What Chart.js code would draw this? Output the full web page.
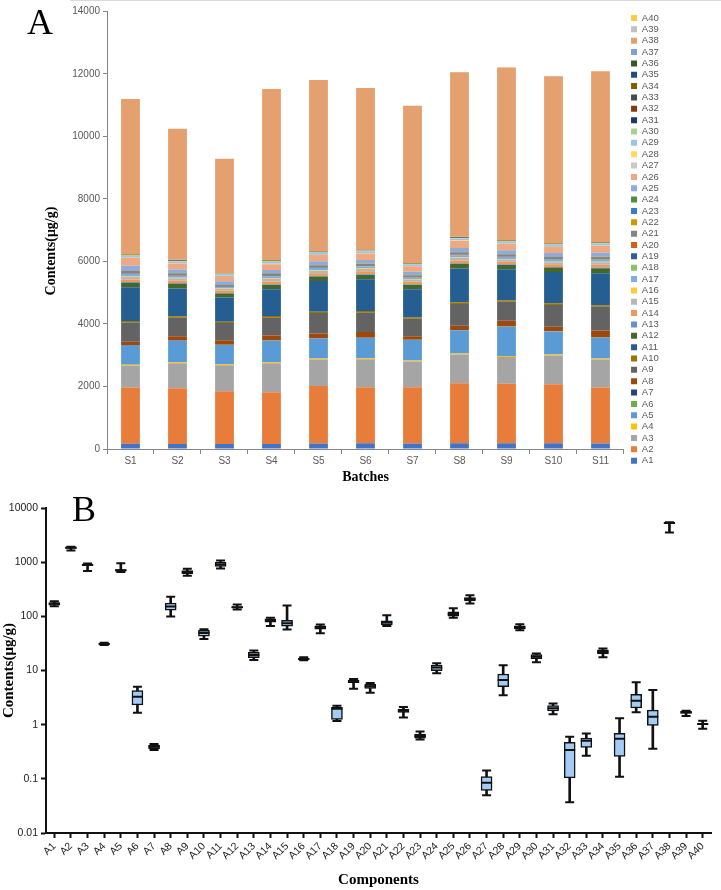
<!DOCTYPE html>
<html>
<head>
  <meta charset="utf-8">
  <title>Contents by batch and component</title>
  <script src="https://cdn.jsdelivr.net/npm/chart.js"></script>
  <style>
    body {
      margin: 0;
      width: 721px;
      height: 890px;
      position: relative;
      overflow: hidden;
      background: #fff;
      font-family: "Liberation Sans", Arial, sans-serif;
    }

    canvas {
      position: absolute;
      left: 0;
    }

    #chartA { top: 0; }
    #chartB { top: 492px; }

    .panel-letter {
      position: absolute;
      z-index: 2;
      font-family: "Liberation Serif", "Times New Roman", serif;
      font-size: 36px;
      line-height: 1;
      color: #000;
    }

    .y-title {
      position: absolute;
      z-index: 2;
      font-family: "Liberation Serif", "Times New Roman", serif;
      font-weight: bold;
      font-size: 14px;
      white-space: nowrap;
      transform: translate(-50%, -50%) rotate(-90deg);
    }

    .frame-top {
      position: absolute;
      left: 70px;
      top: 0;
      width: 651px;
      border-top: 1px solid #d9d9d9;
    }
  </style>
</head>
<body>
  <div class="frame-top"></div>
  <div class="panel-letter" style="left:27px; top:4px;">A</div>
  <div class="panel-letter" style="left:72px; top:491px;">B</div>
  <div class="y-title" style="left:51px; top:251px;">Contents(μg/g)</div>

  <canvas id="chartA" width="721" height="492"></canvas>
  <canvas id="chartB" width="721" height="398"></canvas>

  <script>
    // ---- panel A: stacked contents per batch ----
    const batches = ['S1', 'S2', 'S3', 'S4', 'S5', 'S6', 'S7', 'S8', 'S9', 'S10', 'S11'];
    const components = [];
    for (let i = 1; i <= 40; i++) components.push('A' + i);

    const a1  = [165, 162, 160, 158, 178, 180, 176, 182, 185, 180, 175];
    const a2  = [1800, 1780, 1690, 1655, 1840, 1795, 1800, 1925, 1900, 1890, 1790];
    const a3  = [700, 800, 830, 930, 845, 900, 825, 920, 860, 920, 900];
    const a4  = [30, 31, 30, 32, 31, 31, 30, 31, 30, 32, 31];
    const a5  = [630, 690, 620, 690, 640, 650, 660, 740, 940, 740, 665];
    const a6  = [3.3, 4.2, 2.3, 5.0, 3.0, 2.8, 1.7, 3.6, 4.1, 2.5, 3.3];
    const a7  = [0.39, 0.42, 0.36, 0.44, 0.40, 0.38, 0.34, 0.41, 0.43, 0.37, 0.39];
    const a8  = [106, 139, 149, 160, 160, 181, 118, 139, 182, 149, 229];
    const a9  = [610, 590, 550, 570, 650, 620, 560, 700, 610, 690, 755];
    const a10 = [48, 50, 39, 54, 45, 52, 43, 56, 49, 57, 47];
    const a11 = [1080, 890, 780, 860, 980, 1020, 900, 1077, 990, 1005, 1030];
    const a12 = [150, 150, 128, 139, 149, 138, 139, 149, 139, 138, 160];
    const a13 = [19, 21, 16, 20, 18, 20, 17, 22, 19, 21, 19];
    const a14 = [80, 84, 67, 82, 86, 94, 78, 88, 82, 84, 90];
    const a15 = [100, 68, 58, 85, 80, 72, 60, 85, 75, 66, 78];
    const a16 = [16, 17, 15.5, 16.5, 16, 16.5, 15.5, 17, 16, 16.5, 16.5];
    const a17 = [62, 58, 49, 62, 66, 60, 57, 64, 62, 61, 67];
    const a18 = [1.9, 2.0, 1.2, 2.2, 1.3, 2.0, 1.2, 2.1, 1.95, 1.2, 2.0];
    const a19 = [6.3, 6.6, 4.6, 7.0, 6.0, 6.3, 5.9, 6.7, 6.4, 6.2, 6.5];
    const a20 = [5.1, 5.5, 3.9, 5.9, 4.7, 5.2, 4.6, 5.6, 5.1, 4.9, 5.3];
    const a21 = [95, 74, 67, 80, 82, 76, 70, 84, 77, 80, 75];
    const a22 = [1.8, 1.9, 1.4, 2.1, 1.7, 1.8, 1.6, 2.0, 1.8, 1.75, 1.85];
    const a23 = [0.62, 0.67, 0.53, 0.75, 0.6, 0.58, 0.56, 0.66, 0.62, 0.61, 0.63];
    const a24 = [11.3, 12.6, 8.9, 13.6, 10, 11, 9.5, 12.8, 11.5, 11.2, 12];
    const a25 = [141, 101, 94, 100, 111, 112, 95, 120, 108, 110, 118];
    const a26 = [246, 193, 173, 180, 208, 210, 180, 225, 205, 200, 215];
    const a27 = [0.08, 0.11, 0.05, 0.14, 0.06, 0.085, 0.06, 0.1, 0.09, 0.07, 0.11];
    const a28 = [6.7, 8.6, 3.5, 12.5, 5.0, 6.7, 4.5, 9, 6.5, 5.5, 8];
    const a29 = [62, 58, 56, 60, 63, 66, 56, 67, 62, 60, 64];
    const a30 = [18, 19.7, 14.2, 20.5, 16.6, 18, 16, 19.5, 18, 17, 18.5];
    const a31 = [2.0, 2.2, 1.55, 2.5, 1.8, 2.0, 1.7, 2.2, 2.0, 1.9, 2.1];
    const a32 = [0.34, 0.47, 0.04, 0.6, 0.1, 0.34, 0.1, 0.45, 0.33, 0.2, 0.4];
    const a33 = [0.5, 0.56, 0.27, 0.69, 0.38, 0.5, 0.4, 0.56, 0.5, 0.45, 0.52];
    const a34 = [22, 24, 17.5, 25.4, 20, 22, 20, 24, 22, 21, 23];
    const a35 = [0.55, 0.69, 0.11, 1.31, 0.26, 0.55, 0.26, 0.7, 0.5, 0.4, 0.6];
    const a36 = [2.8, 3.6, 1.7, 6.0, 2.0, 2.8, 2.0, 3.6, 2.7, 2.4, 3.2];
    const a37 = [1.4, 1.9, 0.36, 4.4, 1.0, 1.4, 0.97, 1.9, 1.4, 1.2, 1.6];
    const a38 = [4970, 4190, 3650, 5470, 5480, 5170, 5030, 5270, 5530, 5350, 5470];
    const a39 = [1.7, 1.76, 1.44, 1.81, 1.6, 1.7, 1.61, 1.76, 1.7, 1.65, 1.72];
    const a40 = [1.03, 1.04, 0.84, 1.18, 1.0, 1.03, 1.01, 1.04, 1.03, 1.0, 1.03];

    const batchSeries = [a1, a2, a3, a4, a5, a6, a7, a8, a9, a10, a11, a12, a13, a14, a15, a16, a17, a18, a19, a20,
                         a21, a22, a23, a24, a25, a26, a27, a28, a29, a30, a31, a32, a33, a34, a35, a36, a37, a38, a39, a40];

    const seriesColors = [
      '#4472C4', '#E87C3A', '#A5A5A5', '#FFC000', '#5B9BD5', '#70AD47', '#264478', '#9E480E', '#636363', '#997300',
      '#255E91', '#43682B', '#698ED0', '#F1975A', '#B7B7B7', '#FFCD33', '#7CAFDD', '#8CC168', '#335AA1', '#D26012',
      '#848484', '#CC9A00', '#3A7CC8', '#4F8F3A', '#8FAADC', '#F0A880', '#C9C9C9', '#FFD966', '#9DC3E6', '#A9D18E',
      '#203864', '#843C0C', '#4A4A4A', '#7F6000', '#1F4E79', '#385723', '#809FD8', '#E5A070', '#C0C0C0', '#F5CE45'
    ];

    // ---- panel B: box plot summary per component ----
    const boxMin    = [154, 1650, 690, 29.5, 660, 1.66, 0.34, 99, 560, 38.3, 766, 134, 15.7, 66.6, 57, 15.4, 48.8, 1.17, 4.62, 3.9,
                       66.6, 1.36, 0.533, 8.87, 93.7, 173, 0.0499, 3.48, 55.5, 14.2, 1.55, 0.037, 0.266, 17.5, 0.109, 1.69, 0.359, 3548, 1.44, 0.84];
    const boxQ1     = [160, 1800, 860, 30.5, 680, 2.31, 0.36, 130, 610, 42.9, 834, 143, 17.3, 77.9, 65.6, 15.9, 57.8, 1.25, 5.97, 4.69,
                       69.5, 1.69, 0.565, 9.94, 101, 193, 0.0608, 5.03, 58.6, 16.6, 1.79, 0.104, 0.38, 20.2, 0.259, 2.03, 0.968, 5130, 1.61, 1.01];
    const boxMedian = [170, 1850, 885, 31, 710, 3.29, 0.39, 152, 655, 49.5, 908, 147.5, 19.4, 83.6, 74.6, 16.3, 62.1, 1.97, 6.31, 5.1,
                       76.7, 1.81, 0.615, 11.3, 111, 208, 0.0843, 6.68, 62.1, 18.0, 2.0, 0.339, 0.505, 22.0, 0.55, 2.77, 1.40, 5280, 1.69, 1.03];
    const boxQ3     = [180, 1890, 925, 31.5, 730, 4.25, 0.42, 175, 703, 55.4, 988, 152, 21.7, 89.8, 84.7, 16.8, 66.6, 2.08, 6.68, 5.56,
                       82.4, 1.95, 0.67, 12.6, 121, 223, 0.11, 8.63, 66.6, 19.7, 2.24, 0.47, 0.565, 24.0, 0.689, 3.63, 1.86, 5430, 1.76, 1.04];
    const boxMax    = [190, 1930, 940, 32.5, 960, 5.03, 0.44, 229, 755, 57.8, 1077, 165, 23.3, 93.8, 158, 17.5, 70.5, 2.24, 6.97, 5.88,
                       105, 2.12, 0.75, 13.6, 141, 246, 0.1426, 12.5, 71.6, 20.5, 2.47, 0.598, 0.689, 25.4, 1.31, 6.05, 4.37, 5430, 1.81, 1.18];
    const logTicksB = [0.01, 0.1, 1, 10, 100, 1000, 10000];

    Chart.defaults.font.family = "'Liberation Sans', Arial, sans-serif";
    Chart.defaults.animation = false;
    Chart.defaults.plugins.tooltip.enabled = false;

    const serifBold = (size) => ({ family: "'Liberation Serif', 'Times New Roman', serif", weight: 'bold', size: size });
    const axisGrey = '#868686';
    const labelGrey = '#595959';

    new Chart(document.getElementById('chartA'), {
      type: 'bar',
      data: {
        labels: batches,
        datasets: batchSeries.map((vals, i) => ({
          label: components[i],
          data: vals,
          backgroundColor: seriesColors[i],
          borderWidth: 0,
          barPercentage: 0.4,
          categoryPercentage: 1
        }))
      },
      options: {
        responsive: false,
        layout: { padding: { top: 11.4, right: 52.3, bottom: 0, left: 0 } },
        plugins: {
          legend: {
            position: 'right',
            align: 'start',
            reverse: true,
            labels: {
              boxWidth: 6,
              boxHeight: 6,
              padding: 1.85,
              color: labelGrey,
              font: { size: 9.5 }
            }
          }
        },
        scales: {
          x: {
            stacked: true,
            grid: { drawOnChartArea: false, tickLength: 5, color: axisGrey },
            border: { color: axisGrey },
            ticks: { color: labelGrey, font: { size: 10 }, padding: 1 },
            title: {
              display: true,
              text: 'Batches',
              color: '#000',
              font: serifBold(14),
              padding: { top: 0, bottom: 6.6 }
            },
            afterFit: (s) => { s.height = 43; }
          },
          y: {
            stacked: true,
            min: 0,
            max: 14000,
            grid: { drawOnChartArea: false, tickLength: 4, color: axisGrey },
            border: { color: axisGrey },
            ticks: { stepSize: 2000, color: labelGrey, font: { size: 10 }, padding: 3, callback: (v) => String(v) },
            afterFit: (s) => { s.width = 107; }
          },
          // empty strip between the plot and the legend
          gap: {
            type: 'linear',
            position: 'right',
            grid: { display: false },
            border: { display: false },
            ticks: { display: false },
            afterFit: (s) => { s.width = 5.2; }
          }
        }
      }
    });

    const ink = '#111';

    new Chart(document.getElementById('chartB'), {
      type: 'bar',
      data: {
        labels: components,
        datasets: [
          {
            label: 'range',
            data: components.map((_, i) => [boxMin[i], boxMax[i]]),
            backgroundColor: ink,
            borderWidth: 0,
            barThickness: 2,
            grouped: false,
            order: 3
          },
          {
            label: 'IQR',
            data: components.map((_, i) => [boxQ1[i], boxQ3[i]]),
            backgroundColor: '#A3CBF3',
            borderColor: ink,
            borderWidth: 1.5,
            borderSkipped: false,
            barThickness: 11,
            grouped: false,
            order: 2
          },
          {
            type: 'line',
            label: 'median',
            data: boxMedian,
            showLine: false,
            pointStyle: 'line',
            pointRadius: 5.5,
            pointBorderWidth: 2,
            pointBorderColor: ink,
            order: 1
          },
          {
            type: 'line',
            label: 'max',
            data: boxMax,
            showLine: false,
            pointStyle: 'line',
            pointRadius: 4.5,
            pointBorderWidth: 2,
            pointBorderColor: ink,
            order: 1
          },
          {
            type: 'line',
            label: 'min',
            data: boxMin,
            showLine: false,
            pointStyle: 'line',
            pointRadius: 4.5,
            pointBorderWidth: 2,
            pointBorderColor: ink,
            order: 1
          }
        ]
      },
      options: {
        responsive: false,
        layout: { padding: { top: 16, right: 10, bottom: 0, left: 0 } },
        plugins: { legend: { display: false } },
        scales: {
          x: {
            offset: true,
            grid: { offset: false, drawOnChartArea: false, tickLength: 5, tickWidth: 2, color: ink },
            border: { color: ink, width: 2 },
            ticks: { autoSkip: false, minRotation: 45, maxRotation: 45, color: '#222', font: { size: 10.5 }, padding: 2 },
            title: {
              display: true,
              text: 'Components',
              color: '#000',
              font: serifBold(15),
              padding: { top: 0, bottom: 1 }
            },
            afterFit: (s) => { s.height = 57; }
          },
          y: {
            type: 'logarithmic',
            min: 0.01,
            max: 10000,
            afterBuildTicks: (s) => { s.ticks = logTicksB.map((v) => ({ value: v })); },
            grid: { drawOnChartArea: false, tickLength: 5, tickWidth: 2, color: ink },
            border: { color: ink, width: 2 },
            ticks: { color: '#222', font: { size: 10.5 }, padding: 3, callback: (v) => String(v) },
            title: {
              display: true,
              text: 'Contents(μg/g)',
              color: '#000',
              font: serifBold(15),
              padding: 0
            },
            afterFit: (s) => { s.width = 46; }
          }
        }
      }
    });
  </script>
</body>
</html>
